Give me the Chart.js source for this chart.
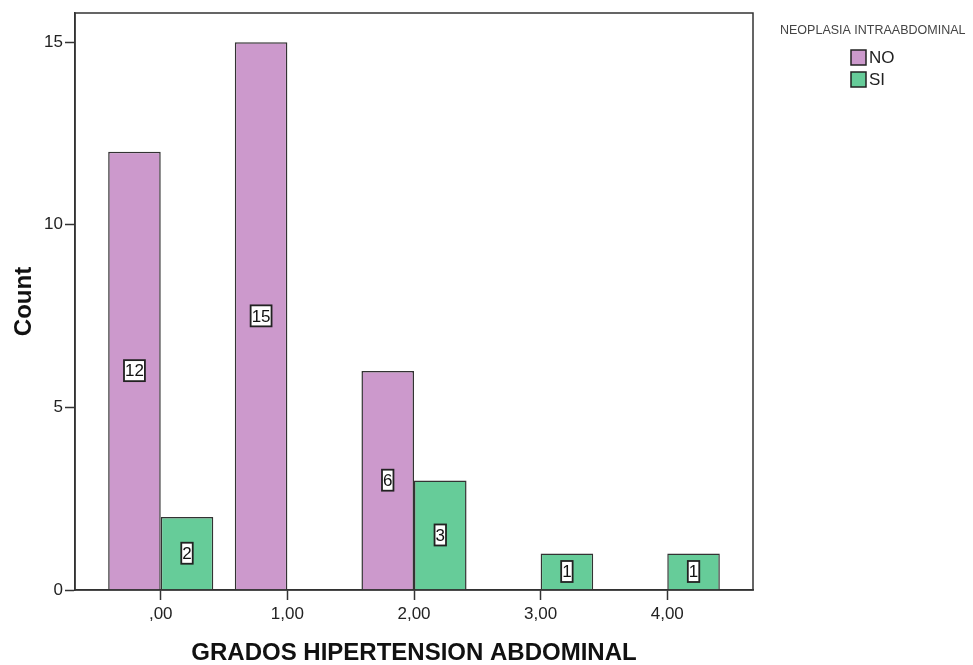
<!DOCTYPE html>
<html>
<head>
<meta charset="utf-8">
<script src="https://cdn.jsdelivr.net/npm/chart.js@4/dist/chart.umd.min.js"></script>
<style>
    html, body { margin: 0; padding: 0; background: #fff; }
    #wrap { width: 973px; height: 665px; }
</style>
</head>
<body>
<div id="wrap"><canvas id="barChart" width="973" height="665"></canvas></div>
<script>
// --- Data ---
const gradeValues = [0, 1, 2, 3, 4];
const gradeLabels = [',00', '1,00', '2,00', '3,00', '4,00'];
const noCounts = [12, 15, 6, null, null];
const siCounts = [2, null, 3, 1, 1];
const countTicks = [0, 5, 10, 15];
const seriesNames = ['NO', 'SI'];
const legendTitle = 'NEOPLASIA INTRAABDOMINAL';

const FONT = 'Arial, "Liberation Sans", sans-serif';
const purple = '#cc99cc';
const green = '#66cc99';
const edge = '#333333';

function toPoints(values) {
    return gradeValues.map((x, i) => ({ x: x, y: values[i] }));
}

// --- Plugins ---
// frame around the plot area (SPSS style box)
const frameBox = {
    id: 'frameBox',
    afterDatasetsDraw(chart) {
        const { ctx, chartArea } = chart;
        ctx.save();
        ctx.strokeStyle = edge;
        ctx.lineWidth = 1.5;
        ctx.strokeRect(chartArea.left, chartArea.top, chartArea.right - chartArea.left, chartArea.bottom - chartArea.top);
        ctx.restore();
    }
};

// value boxes in the middle of each bar
const valueBoxes = {
    id: 'valueBoxes',
    afterDatasetsDraw(chart) {
        const { ctx } = chart;
        ctx.save();
        ctx.font = '17px ' + FONT;
        ctx.textAlign = 'center';
        ctx.textBaseline = 'middle';
        chart.data.datasets.forEach((ds, di) => {
            const meta = chart.getDatasetMeta(di);
            meta.data.forEach((bar, i) => {
                const v = ds.data[i].y;
                if (v === null) return;
                const cy = (bar.y + bar.base) / 2;
                const txt = String(v);
                const w = ctx.measureText(txt).width + 2;
                const h = 21;
                ctx.fillStyle = '#ffffff';
                ctx.fillRect(bar.x - w / 2, cy - h / 2, w, h);
                ctx.strokeStyle = '#222';
                ctx.lineWidth = 1.8;
                ctx.strokeRect(bar.x - w / 2, cy - h / 2, w, h);
                ctx.fillStyle = '#111';
                ctx.fillText(txt, bar.x, cy + 1);
            });
        });
        ctx.restore();
    }
};

// legend on the right, drawn from the datasets
const sideLegend = {
    id: 'sideLegend',
    afterDraw(chart) {
        const { ctx } = chart;
        ctx.save();
        ctx.fillStyle = '#444';
        ctx.font = '12.5px ' + FONT;
        ctx.textBaseline = 'middle';
        ctx.textAlign = 'left';
        ctx.fillText(legendTitle, 780, 31);
        chart.data.datasets.forEach((ds, i) => {
            const y = 50 + i * 22;
            ctx.fillStyle = ds.backgroundColor;
            ctx.fillRect(851, y, 15, 15);
            ctx.strokeStyle = '#222';
            ctx.lineWidth = 1.5;
            ctx.strokeRect(851, y, 15, 15);
            ctx.fillStyle = '#222';
            ctx.font = '17px ' + FONT;
            ctx.fillText(ds.label, 869, y + 8);
        });
        ctx.restore();
    }
};

// --- Chart ---
const ctx = document.getElementById('barChart');

new Chart(ctx, {
    type: 'bar',
    data: {
        datasets: [{
            label: seriesNames[0],
            data: toPoints(noCounts),
            backgroundColor: purple,
            borderColor: edge,
            borderWidth: 1.5
        }, {
            label: seriesNames[1],
            data: toPoints(siCounts),
            backgroundColor: green,
            borderColor: edge,
            borderWidth: 1.5
        }]
    },
    options: {
        responsive: false,
        animation: false,
        categoryPercentage: 0.83,
        barPercentage: 1.0,
        layout: {
            padding: { left: 0, top: 13, right: 220, bottom: 0 }
        },
        scales: {
            x: {
                type: 'linear',
                min: -0.677,
                max: 4.677,
                offset: false,
                afterBuildTicks: (axis) => {
                    axis.ticks = gradeValues.map(v => ({ value: v }));
                },
                afterFit: (axis) => { axis.height = 75; },
                grid: {
                    offset: false,
                    drawOnChartArea: false,
                    drawTicks: true,
                    tickLength: 10,
                    tickWidth: 1.5,
                    tickColor: edge
                },
                border: { color: edge, width: 1.5 },
                ticks: {
                    autoSkip: false,
                    maxRotation: 0,
                    padding: 4,
                    color: '#222',
                    font: { family: FONT, size: 17 },
                    callback: (v) => gradeLabels[gradeValues.indexOf(v)]
                },
                title: {
                    display: true,
                    text: 'GRADOS HIPERTENSION ABDOMINAL',
                    color: '#111',
                    font: { family: FONT, size: 24, weight: 'bold', lineHeight: 1 },
                    padding: { top: 0, bottom: 0 }
                }
            },
            y: {
                min: 0,
                max: 15.8,
                afterBuildTicks: (axis) => {
                    axis.ticks = countTicks.map(v => ({ value: v }));
                },
                afterFit: (axis) => { axis.width = 75; },
                grid: {
                    drawOnChartArea: false,
                    drawTicks: true,
                    tickLength: 10,
                    tickWidth: 1.5,
                    tickColor: edge
                },
                border: { color: edge, width: 1.5 },
                ticks: {
                    padding: 2,
                    color: '#222',
                    font: { family: FONT, size: 17 }
                },
                title: {
                    display: true,
                    text: 'Count',
                    color: '#111',
                    font: { family: FONT, size: 24, weight: 'bold', lineHeight: 1 },
                    padding: { top: 12, bottom: 0 }
                }
            }
        },
        plugins: {
            legend: { display: false },
            tooltip: { enabled: false }
        }
    },
    plugins: [frameBox, valueBoxes, sideLegend]
});
</script>
</body>
</html>
